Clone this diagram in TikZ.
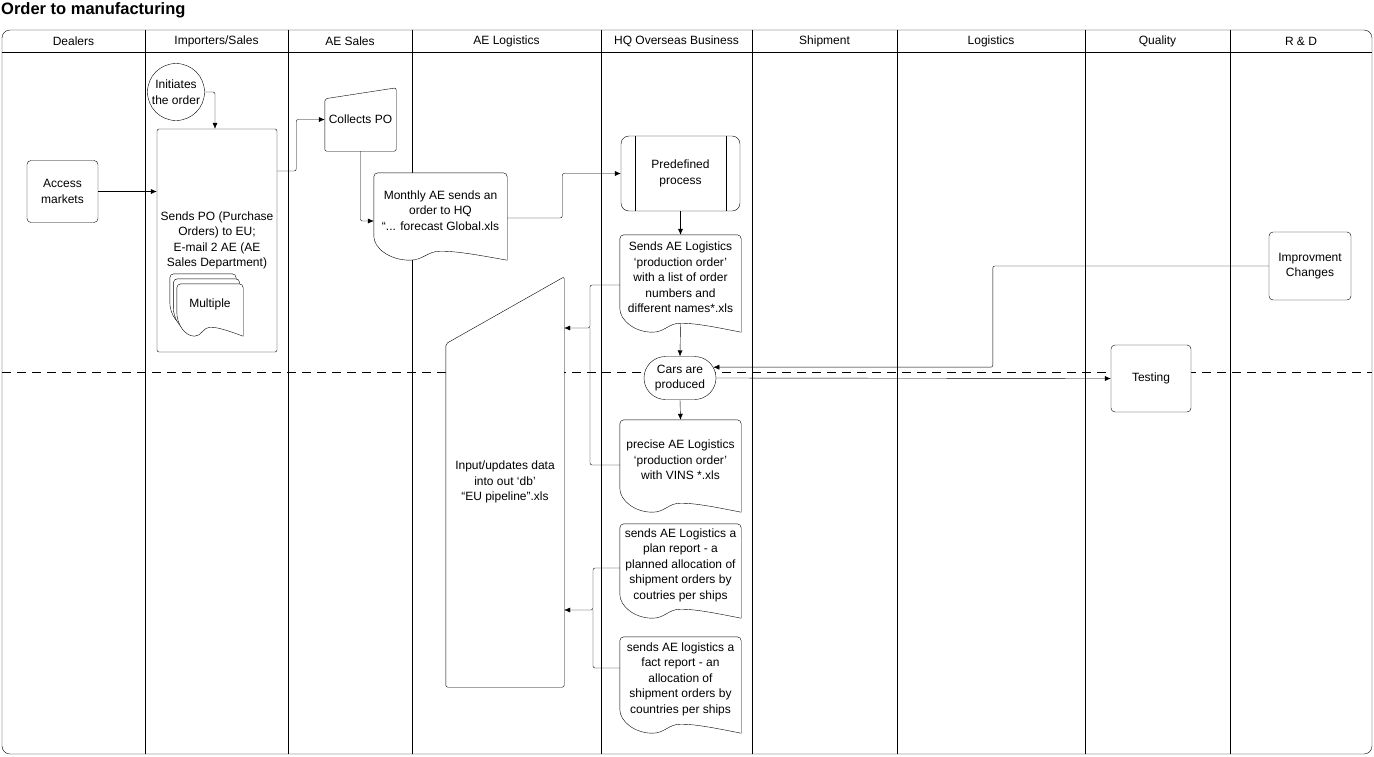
\documentclass[tikz,border=0pt]{standalone}
\usepackage{fontspec}
\setmainfont{Liberation Sans}
\usetikzlibrary{arrows.meta,shapes.misc,calc}
\pgfdeclarelayer{lanes}
\pgfdeclarelayer{shapes}
\pgfsetlayers{lanes,shapes,main}

\newcommand{\docshape}[1]{%
  \draw [fill=white] let \p1=(#1.south west), \p2=(#1.north east), \n1={\x2-\x1} in
    (\x1,\y1+12pt) -- (\x1,\y2-4pt) arc [start angle=180, end angle=90, radius=4pt]
    -- (\x2-4pt,\y2) arc [start angle=90, end angle=0, radius=4pt]
    -- (\x2,\y1-12pt)
    .. controls (\x2-0.25*\n1,\y1-6pt) and (\x1+0.62*\n1,\y1-3pt) .. (\x1+0.5*\n1,\y1-3pt)
    .. controls (\x1+0.4*\n1,\y1-3pt) and (\x1+0.37*\n1,\y1-12pt) .. (\x1+0.27*\n1,\y1-12pt)
    .. controls (\x1+0.12*\n1,\y1-12pt) and (\x1,\y1) .. (\x1,\y1+12pt) -- cycle;}
\newcommand{\manualshape}[2]{%
  \draw [fill=white, rounded corners=2pt] (#1.south west) -- ([yshift=-#2]#1.north west)
    -- (#1.north east) -- (#1.south east) -- cycle;}

\begin{document}
\begin{tikzpicture}[x=1pt, y=-1pt, line width=1.2pt,
    every node/.style={font=\fontsize{12}{15.5}\selectfont, align=center},
    box/.style={draw, fill=white, rounded corners=4pt, inner sep=1pt},
    doc/.style={inner sep=0pt, minimum width=121pt},
    arr/.style={-{Latex[length=6pt,width=5pt]}, rounded corners=2pt}]

    \useasboundingbox (0,0) rectangle (1374,756);

    \begin{pgfonlayer}{lanes}
    \draw [rounded corners=8pt] (2,30) rectangle (1372,754);
    \draw (2,52) -- (1372,52);
    \foreach \x in {145,288,412,601,752,897,1085,1230}
        \draw (\x,30) -- (\x,754);
    \draw [dash pattern=on 9pt off 6pt] (2,372) -- (1372,372);
    \end{pgfonlayer}

    \node [anchor=west, inner sep=0pt, font=\bfseries\fontsize{16.5}{18}\selectfont] (title) at (1,10) {Order to manufacturing};
    \foreach \x/\lane/\lname in {73.5/Dealers/dealers, 216.5/{Importers/Sales}/importers, 350/AE Sales/aesales,
        506.5/AE Logistics/aelog, 676.5/HQ Overseas Business/hq, 824.5/Shipment/shipment,
        991/Logistics/logistics, 1157.5/Quality/quality, 1301/R \& D/rnd}
        \node (\lname) at (\x,41) {\lane};

    \node [box, minimum width=71pt, minimum height=62pt] (access) at (62.5,191.5) {Access\\markets};
    \node [draw, circle, fill=white, minimum size=57pt, inner sep=0pt] (initiates) at (176,92) {Initiates\\the order};
    \node [box, rounded corners=2pt, fill=none, minimum width=120pt, minimum height=223pt] (sendspo) at (217,240.5) {Sends PO (Purchase\\Orders) to EU;\\E-mail 2 AE (AE\\Sales Department)};
    \node [doc, minimum width=66pt, minimum height=40pt] (multa) at (203,294) {};
    \node [doc, minimum width=66pt, minimum height=40pt] (multb) at (206.5,299) {};
    \node [doc, minimum width=66pt, minimum height=40pt] (multc) at (210,304) {Multiple};
    \node [inner sep=0pt, minimum width=71pt, minimum height=63pt] (collects) at (360.5,119.5) {Collects PO};
    \node [doc, minimum width=133pt, minimum height=75pt] (monthly) at (440.5,210.5) {Monthly AE sends an\\order to HQ\\“... forecast Global.xls};
    \node [box, rounded corners=8pt, minimum width=119pt, minimum height=75pt] (predef) at (680.5,173.5) {Predefined\\process};
    \node [doc, minimum height=85pt] (sendsae) at (680.5,277.5) {Sends AE Logistics\\‘production order’\\with a list of order\\numbers and\\different names*.xls};
    \node [inner sep=0pt, minimum width=118pt, minimum height=410pt] (input) at (505,482) {Input/updates data\\into out ‘db’\\“EU pipeline”.xls};
    \node [draw, fill=white, rounded rectangle, minimum width=72pt, minimum height=43pt, inner sep=0pt] (cars) at (680,378) {Cars are\\produced};
    \node [doc, minimum height=80pt] (precise) at (680.5,460) {precise AE Logistics\\‘production order’\\with VINS *.xls};
    \node [doc, minimum height=82pt] (plan) at (680.5,565) {sends AE Logistics a\\plan report - a\\planned allocation of\\shipment orders by\\coutries per ships};
    \node [doc, minimum height=84pt] (fact) at (680.5,679) {sends AE logistics a\\fact report - an\\allocation of\\shipment orders by\\countries per ships};
    \node [box, minimum width=80pt, minimum height=67pt] (testing) at (1151,378.5) {Testing};
    \node [box, minimum width=82pt, minimum height=68pt] (improv) at (1310,266) {Improvment\\Changes};

    \begin{pgfonlayer}{shapes}
    \foreach \docname in {multa,multb,multc,monthly,sendsae,precise,plan,fact}
        \docshape{\docname};
    \manualshape{collects}{11pt}
    \manualshape{input}{67pt}
    \end{pgfonlayer}

    \draw ([xshift=14pt]predef.north west) -- ([xshift=14pt]predef.south west);
    \draw ([xshift=-14pt]predef.north east) -- ([xshift=-14pt]predef.south east);

    \coordinate (busa) at (590,328);
    \coordinate (busb) at (593,610);

    \draw [arr] (access.east) -- (access.east -| sendspo.west);
    \draw [arr] (initiates.east) -| ([xshift=-2pt]sendspo.north);
    \draw [arr] ([yshift=69.5pt]sendspo.east) -- ++(19,0) |- (collects.west);
    \draw [arr] (collects.south) |- ([yshift=-10.5pt]monthly.west);
    \draw [arr] ([yshift=-7.5pt]monthly.east) -- ++(55,0) |- (predef.west);
    \draw [arr] (predef.south) -- (sendsae.north);
    \draw [arr] ([yshift=-3pt]sendsae.south) -- (cars.north);
    \draw [arr] (cars.south) -- (precise.north);
    \draw [arr] (cars.east) -- (testing.west);
    \draw [arr] (improv.west) -- ++(-276,0) |- (cars.18);
    \draw [arr] ([yshift=-7.5pt]sendsae.west) -| (busa) -- (input.east |- busa);
    \draw [rounded corners=2pt] ([yshift=-5pt]precise.west) -| (busa);
    \draw [arr] ([yshift=-3pt]plan.west) -| (busb) -- (input.east |- busb);
    \draw [rounded corners=2pt] ([yshift=11pt]fact.west) -| (busb);
\end{tikzpicture}
\end{document}
